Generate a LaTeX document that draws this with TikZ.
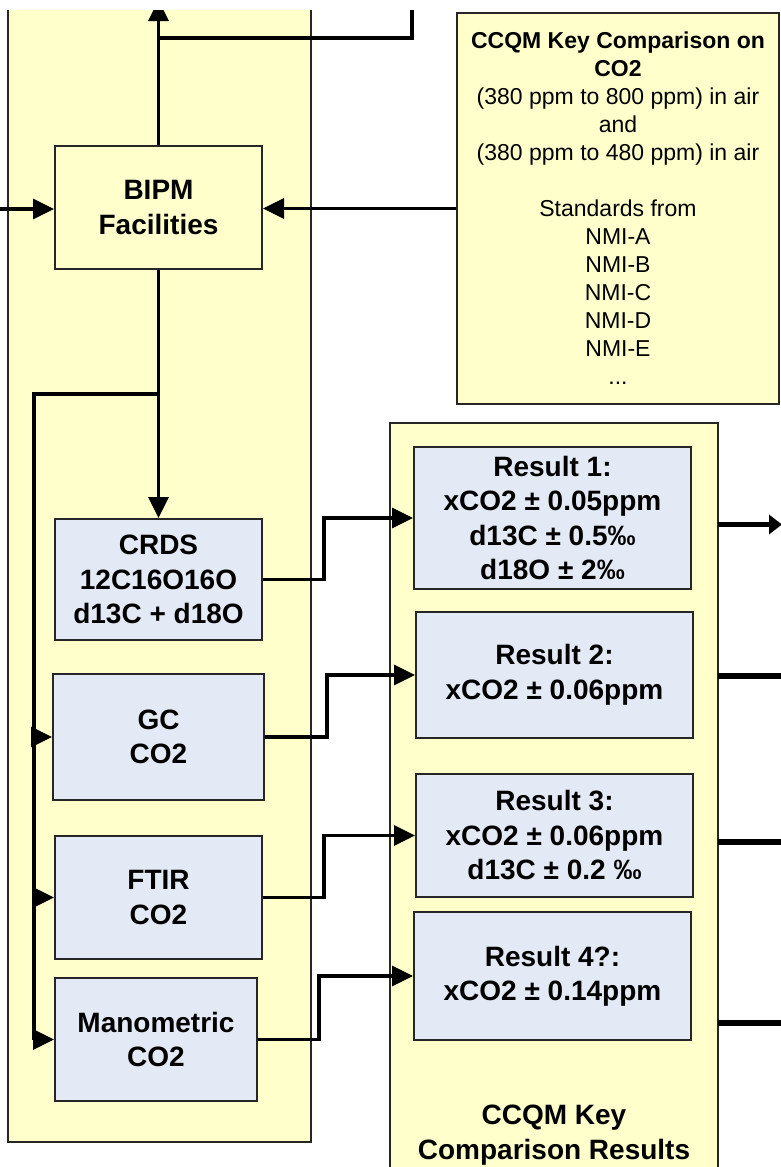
\documentclass[tikz,border=0pt]{standalone}
\usepackage{fontspec}
\setmainfont{Liberation Sans}
\usetikzlibrary{arrows.meta}
\definecolor{panelY}{HTML}{FFFFCC}
\definecolor{boxB}{HTML}{E4EAF5}
\definecolor{edge}{HTML}{262626}
\tikzset{
  panel/.style={draw=edge, line width=1.5pt, fill=panelY, inner sep=0pt},
  ybox/.style={draw=edge, line width=2pt, fill=panelY, inner sep=0pt, align=center,
    font=\fontsize{28}{34.5}\selectfont\bfseries},
  bbox/.style={ybox, fill=boxB},
  conn/.style={line width=3.3pt},
  arr/.style={conn, -{Triangle[length=21pt,width=20pt]}},
  outl/.style={line width=5.5pt},
}
\begin{document}
\begin{tikzpicture}[x=1pt,y=-1pt]
\useasboundingbox (0,0) rectangle (781,1167);
\clip (0,10) rectangle (781,1167);
% panels
\node[panel, minimum width=303pt, minimum height=1142pt] (lp) at (159.5,571) {};
\node[panel, minimum width=328pt, minimum height=777pt] (rp) at (554,811.5) {};
% boxes
\node[ybox, minimum width=207pt, minimum height=123pt] (bipm) at (158.5,207.5) {BIPM\\Facilities};
\node[draw=edge, line width=2pt, fill=panelY, inner sep=0pt, align=center,
      minimum width=322pt, minimum height=391pt, font=\fontsize{23}{28}\selectfont] (ccqm) at (618,208.5)
  {\textbf{CCQM Key Comparison on}\\\textbf{CO2}\\(380 ppm to 800 ppm) in air\\and\\(380 ppm to 480 ppm) in air\\\mbox{}\\Standards from\\NMI-A\\NMI-B\\NMI-C\\NMI-D\\NMI-E\\...};
\node[bbox, minimum width=207pt, minimum height=121pt] (crds) at (158.5,579.5) {CRDS\\12C16O16O\\d13C + d18O};
\node[bbox, minimum width=211pt, minimum height=126pt] (gc) at (158.5,737) {GC\\CO2};
\node[bbox, minimum width=207pt, minimum height=123pt] (ftir) at (158.5,897.5) {FTIR\\CO2};
\node[bbox, minimum width=202pt, minimum height=123pt] (man) at (156,1039.5) {Manometric\\CO2};
\node[bbox, minimum width=277pt, minimum height=142pt] (r1) at (552.5,518) {Result 1:\\xCO2 ± 0.05ppm\\d13C ± 0.5‰\\d18O ± 2‰};
\node[bbox, minimum width=277pt, minimum height=126pt] (r2) at (554.5,675) {Result 2:\\xCO2 ± 0.06ppm};
\node[bbox, minimum width=277pt, minimum height=123pt] (r3) at (554.5,835.5) {Result 3:\\xCO2 ± 0.06ppm\\d13C ± 0.2 ‰};
\node[bbox, minimum width=277pt, minimum height=128pt] (r4) at (552.5,976) {Result 4?:\\xCO2 ± 0.14ppm};
\node[align=center, inner sep=0pt, font=\fontsize{28}{34.5}\selectfont\bfseries] (rlabel) at (554,1135) {CCQM Key\\Comparison Results};
% coordinates
\coordinate (top1) at (158.5,0);
\coordinate (top2) at (412,0);
\coordinate (j1) at (158.5,38);
\coordinate (lin) at (0,209);
\coordinate (j2) at (158.5,394);
\coordinate (lvb) at (34,1039.5);
\coordinate (o1) at (718,524.5); \coordinate (e1) at (782,524.5);
\coordinate (o2) at (718,676);  \coordinate (e2) at (790,676);
\coordinate (o3) at (718,842);  \coordinate (e3) at (790,842);
\coordinate (o4) at (718,1023); \coordinate (e4) at (790,1023);
% connectors
\draw[arr] (bipm.north) -- (top1);
\draw[conn] (top2) |- (j1);
\draw[arr] (lin) -- (lin -| bipm.west);
\draw[arr] (ccqm.west) -- (ccqm.west -| bipm.east);
\draw[arr] (bipm.south) -- (crds.north);
\draw[conn] (j2) -| (lvb);
\draw[arr] (lvb |- gc.west) -- (gc.west);
\draw[arr] (lvb |- ftir.west) -- (ftir.west);
\draw[arr] (lvb) -- (man.west);
\draw[arr] (crds.east) -- ++(61,0) |- (r1.west);
\draw[arr] (gc.east) -- ++(62,0) |- (r2.west);
\draw[arr] (ftir.east) -- ++(61,0) |- (r3.west);
\draw[arr] (man.east) -- ++(61,0) |- (r4.west);
\draw[outl, -{Triangle[length=13pt,width=19pt]}] (o1) -- (e1);
\draw[outl] (o2) -- (e2);
\draw[outl] (o3) -- (e3);
\draw[outl] (o4) -- (e4);
\end{tikzpicture}
\end{document}
